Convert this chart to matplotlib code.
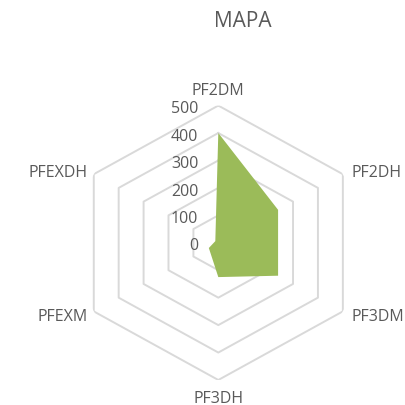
import numpy as np
import matplotlib
matplotlib.use("Agg")
import matplotlib.pyplot as plt

categories = ["PF2DM", "PF2DH", "PF3DM", "PF3DH", "PFEXM", "PFEXDH"]
values = [400, 240, 240, 125, 38, 12]
rings = [100, 200, 300, 400, 500]
tick_labels = ["0", "100", "200", "300", "400", "500"]
title = "MAPA"

TEXT_COLOR = "#595959"
GRID_COLOR = "#D9D9D9"
FILL_COLOR = "#9BBB59"

plt.rcParams["font.family"] = ["Open Sans", "DejaVu Sans"]

fig = plt.figure(figsize=(4.06, 4.06), dpi=100)
# Excel stretches the radar slightly wider than tall
ax = fig.add_axes([0.1835, 0.0616, 0.7084, 0.6759], projection="polar")
ax.set_aspect("auto")
ax.set_theta_zero_location("N")
ax.set_theta_direction(-1)
ax.set_ylim(0, 500)
ax.grid(False)
ax.set_xticks([])
ax.set_yticks([])
ax.spines["polar"].set_visible(False)
ax.patch.set_alpha(0)

n = len(categories)
theta = np.linspace(0, 2 * np.pi, n, endpoint=False)
theta_closed = np.append(theta, theta[0])

# hexagonal grid
for r in rings:
    ax.plot(theta_closed, [r] * (n + 1), color=GRID_COLOR, lw=1.4, zorder=1)

# data area
ax.fill(theta_closed, values + values[:1], color=FILL_COLOR, lw=0, zorder=3)

# value labels along top axis
for i, lab in enumerate(tick_labels):
    ax.annotate(lab, xy=(0, i * 100), xytext=(-14.4, -4.8),
                textcoords="offset points", ha="right", va="baseline",
                fontsize=11.5, color=TEXT_COLOR, zorder=4, annotation_clip=False)

# category labels
offsets = [(0, 8.1, "center"), (6, -1.5, "left"), (6, -6.4, "left"),
           (0, -15.7, "center"), (-4.3, -6.4, "right"), (-4.3, -1.5, "right")]
for t, lab, (dx, dy, ha) in zip(theta, categories, offsets):
    ax.annotate(lab, xy=(t, 500), xytext=(dx, dy), textcoords="offset points",
                ha=ha, va="baseline", fontsize=11.5, color=TEXT_COLOR,
                annotation_clip=False)

fig.text(242.7 / 406, 0.934, title, ha="center", va="baseline",
         fontsize=15, color=TEXT_COLOR)

fig.savefig("out.png", dpi=100)
